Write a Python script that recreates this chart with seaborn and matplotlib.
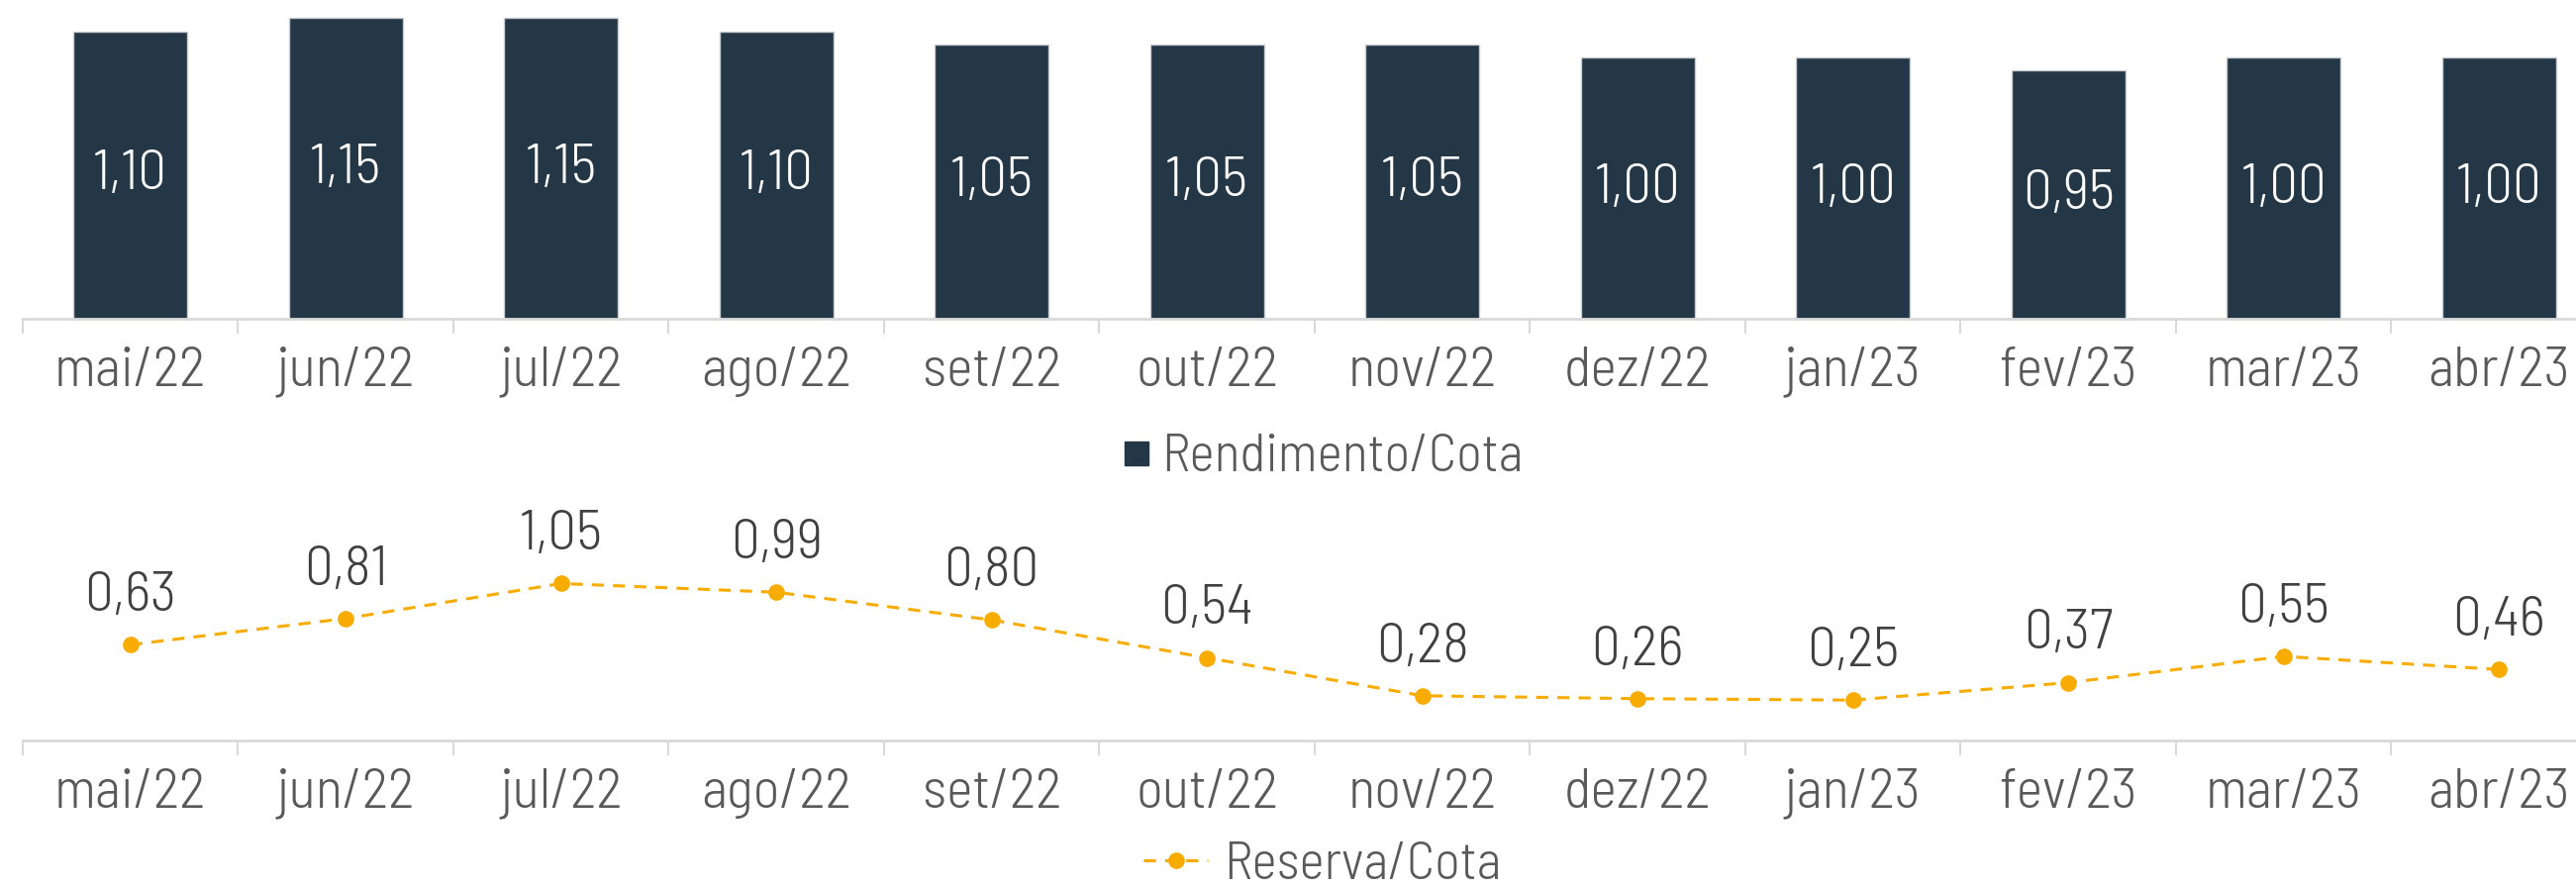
import matplotlib
matplotlib.use("Agg")
import matplotlib.pyplot as plt
import seaborn as sns
import numpy as np
import pandas as pd
from matplotlib.lines import Line2D

months = ["mai/22", "jun/22", "jul/22", "ago/22", "set/22", "out/22",
          "nov/22", "dez/22", "jan/23", "fev/23", "mar/23", "abr/23"]
rendimento = [1.10, 1.15, 1.15, 1.10, 1.05, 1.05, 1.05, 1.00, 1.00, 0.95, 1.00, 1.00]
reserva = [0.63, 0.81, 1.05, 0.99, 0.80, 0.54, 0.28, 0.26, 0.25, 0.37, 0.55, 0.46]

sns.set_theme(style="white")
plt.rcParams['font.family'] = ['Barlow Semi Condensed', 'Fira Sans Condensed', 'DejaVu Sans']
plt.rcParams['font.weight'] = 300

NAVY = "#243746"
ORANGE = "#F8AC00"
LABEL = "#404040"
TICK = "#595959"
AXC = "#d9d9d9"
FS = 41
LFS = 39

def fmt(v):
    return f"{v:.2f}".replace(".", ",")

fig = plt.figure(figsize=(26.02, 8.97), dpi=100)
ax1 = fig.add_axes([23/2602, 1-322/897, 2610/2602, 322/897])
ax2 = fig.add_axes([23/2602, 1-748/897, 2610/2602, 268/897])

idx = np.arange(len(months))
df = pd.DataFrame({"mes": months, "x": idx, "rend": rendimento, "res": reserva})

# Top: bars
sns.barplot(data=df, x="mes", y="rend", color=NAVY, width=0.53, ax=ax1,
            saturation=1, edgecolor="#c8ccd0", linewidth=1)
ax1.set_ylim(0, 322/264)
ax1.set_xlim(-0.5, len(months)-0.5)
for i, v in enumerate(rendimento):
    ax1.text(i, v/2, fmt(v), ha="center", va="center", color="white", fontsize=FS)

# Bottom: line
sns.lineplot(data=df, x="x", y="res", ax=ax2, color=ORANGE, linestyle="--",
             linewidth=2.2, marker="o", markersize=12, markeredgewidth=0)
ax2.lines[0].set_dashes([4, 3])
ax2.set_ylim(-0.027, -0.027 + 268/147.25)
ax2.set_xlim(-0.5, len(months)-0.5)
for i, v in enumerate(reserva):
    ax2.annotate(fmt(v), (i, v), xytext=(0, 35), textcoords="offset points",
                 ha="center", va="center", color=LABEL, fontsize=FS)

for ax in (ax1, ax2):
    for s in ["top", "right", "left"]:
        ax.spines[s].set_visible(False)
    ax.spines["bottom"].set_color(AXC)
    ax.spines["bottom"].set_linewidth(2)
    ax.set_yticks([])
    ax.set_xlabel("")
    ax.set_ylabel("")
    ax.set_xticks(idx)
    ax.set_xticklabels(months)
    ax.set_xticks(np.arange(-0.5, len(months)+0.5, 1), minor=True)
    ax.tick_params(axis="x", which="major", length=0, pad=20, labelsize=FS, labelcolor=TICK)
    ax.tick_params(axis="x", which="minor", length=11, width=1.5, color=AXC, bottom=True)
    ax.grid(False)
    ax.patch.set_alpha(0)

h1 = [Line2D([], [], linestyle="none", marker="s", markersize=17, color=NAVY)]
fig.legend(h1, ["Rendimento/Cota"], loc="center", bbox_to_anchor=(1337/2602, 1-463/897),
           frameon=False, fontsize=LFS, labelcolor=TICK, handlelength=0.45,
           handletextpad=0.25, borderaxespad=0)

h2 = [Line2D([], [], linestyle="--", dashes=[4, 3], linewidth=2.2, marker="o",
             markersize=12, markeredgewidth=0, color=ORANGE)]
fig.legend(h2, ["Reserva/Cota"], loc="center", bbox_to_anchor=(1336/2602, 1-874/897),
           frameon=False, fontsize=LFS, labelcolor=TICK, handlelength=1.2,
           handletextpad=0.3, borderaxespad=0)

fig.savefig("out.png", dpi=100)
